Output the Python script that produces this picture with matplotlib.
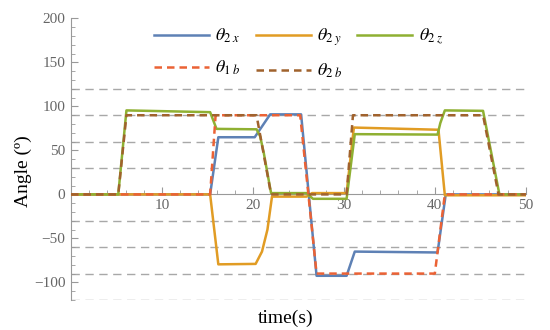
import matplotlib
matplotlib.use("Agg")
import matplotlib.pyplot as plt
from matplotlib.ticker import MultipleLocator

plt.rcParams['font.family'] = ['Liberation Serif', 'DejaVu Serif']
plt.rcParams['mathtext.fontset'] = 'stix'

# breakpoints (time in s, angle in degrees)
t2x = [0, 15.3, 16.2, 20.2, 21.9, 25.3, 27.0, 30.3, 31.2, 40.3, 41.2, 50]
v2x = [0, 0, 65, 65, 91, 91, -92.5, -92.5, -65, -66, 0, 0]

t2y = [0, 15.3, 16.2, 20.3, 21.0, 21.6, 22.1, 25.9, 26.5, 30.3, 31.1, 40.4, 41.1, 50]
v2y = [0, 0, -79.5, -79, -65, -40, -2.5, -2.5, 1.5, 1.5, 76, 73.5, -1, -1]

t2z = [0, 5.2, 6.1, 15.3, 16.0, 20.4, 20.8, 21.2, 21.6, 22.0, 25.9, 26.6,
       30.3, 31.2, 40.3, 40.6, 41.1, 45.3, 47.1, 50]
v2z = [0, 0, 95.5, 93.5, 74.5, 74, 66, 47, 24, 1.5, 1.5, -5,
       -5, 68.5, 68, 81, 95.5, 95, 0, 0]

t1b = [0, 15.3, 15.9, 25.2, 27.0, 40.0, 41.1, 50]
v1b = [0, 0, 90, 90, -90, -90, 0, 0]

t2b = [0, 5.2, 6.1, 20.4, 22.0, 30.3, 31.0, 45.3, 47.0, 50]
v2b = [0, 0, 90, 90, 0, 0, 90, 90, 0, 0]

grid_levels = [-120, -90, -60, -30, 30, 60, 90, 120]

fig = plt.figure(figsize=(5.5, 3.3), dpi=100)
ax = fig.add_axes([0.129, 0.091, 0.827, 0.853])

for g in grid_levels:
    ax.axhline(g, color='#a8a8a8', lw=1.0, dashes=(6, 4), zorder=1)

l1, = ax.plot(t2x, v2x, color='#5E81B5', lw=1.8, zorder=3)
l2, = ax.plot(t2y, v2y, color='#E19C24', lw=1.8, zorder=3)
l3, = ax.plot(t2z, v2z, color='#8FB032', lw=1.8, zorder=3)
l4, = ax.plot(t1b, v1b, color='#EB6235', lw=1.8, dashes=(3, 2), zorder=4)
l5, = ax.plot(t2b, v2b, color='#A0622D', lw=1.8, dashes=(3, 2), zorder=4)

ax.set_xlim(0, 50)
ax.set_ylim(-120, 200)

# Mathematica-style axes crossing at the origin
for s in ['top', 'right']:
    ax.spines[s].set_visible(False)
ax.spines['bottom'].set_position(('data', 0))
ax.spines['bottom'].set_color('#999999')
ax.spines['left'].set_color('#999999')
ax.spines['bottom'].set_zorder(2)

ax.xaxis.set_minor_locator(MultipleLocator(2))
ax.yaxis.set_minor_locator(MultipleLocator(10))
ax.set_xticks([10, 20, 30, 40, 50])
ax.tick_params(axis='x', which='major', direction='in', length=5, color='#999999',
               labelcolor='#666666', labelsize=11, pad=3)
ax.tick_params(axis='x', which='minor', direction='in', length=3, color='#999999')
ax.tick_params(axis='y', which='major', direction='in', length=5, color='#999999',
               labelcolor='#666666', labelsize=11, pad=4)
ax.tick_params(axis='y', which='minor', direction='in', length=3, color='#999999')
ax.set_yticks([-100, -50, 0, 50, 100, 150, 200])
ax.set_yticklabels(['\u2212100', '\u221250', '0', '50', '100', '150', '200'])

fig.text(0.52, 0.035, 'time(s)', ha='center', va='center', fontsize=14)
fig.text(0.042, 0.48, 'Angle (\u00ba)', ha='center', va='center', rotation=90, fontsize=14)

handles = [l1, l4, l2, l5, l3]
labels = [r'$\theta_{2\ x}$', r'$\theta_{1\ b}$', r'$\theta_{2\ y}$',
          r'$\theta_{2\ b}$', r'$\theta_{2\ z}$']
ax.legend(handles, labels, ncol=3, frameon=False, fontsize=13,
          handlelength=3.05, columnspacing=0.8, labelspacing=0.75, handletextpad=0.35,
          loc='upper left', bbox_to_anchor=(0.25, 0.968), bbox_transform=fig.transFigure)

fig.savefig('out.png', dpi=100)
